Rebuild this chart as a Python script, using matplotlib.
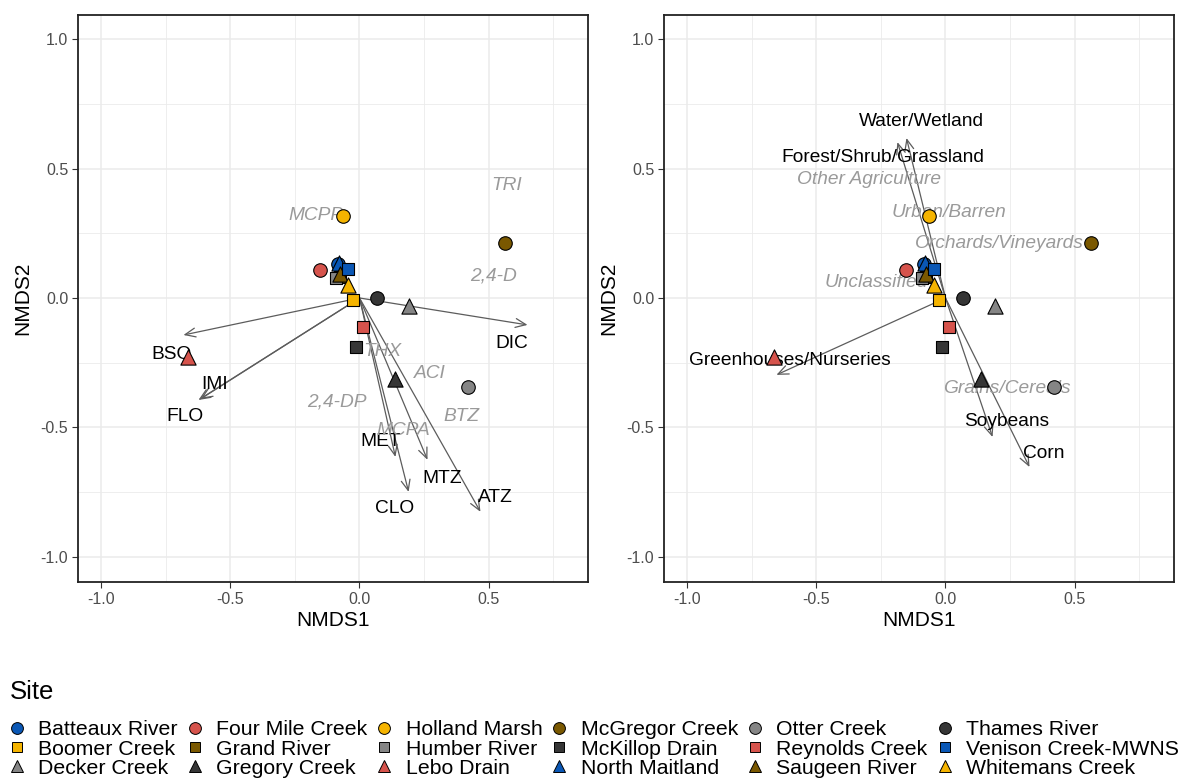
import numpy as np
import matplotlib
matplotlib.use('Agg')
import matplotlib.pyplot as plt
from matplotlib.lines import Line2D

plt.rcParams['font.family'] = ['Liberation Sans', 'DejaVu Sans']
plt.rcParams['axes.unicode_minus'] = False

# sites: NMDS scores, fill colour and shape
sites = ['Batteaux River', 'Boomer Creek', 'Decker Creek', 'Four Mile Creek', 'Grand River',
         'Gregory Creek', 'Holland Marsh', 'Humber River', 'Lebo Drain', 'McGregor Creek',
         'McKillop Drain', 'North Maitland', 'Otter Creek', 'Reynolds Creek', 'Saugeen River',
         'Thames River', 'Venison Creek-MWNS', 'Whitemans Creek']
nmds1 = [-0.085, -0.027, 0.19, -0.151, -0.077, 0.139, -0.062, -0.089, -0.662, 0.561,
         -0.012, -0.081, 0.418, 0.015, -0.077, 0.066, -0.046, -0.046]
nmds2 = [0.131, -0.008, -0.031, 0.108, 0.081, -0.313, 0.317, 0.077, -0.228, 0.212,
         -0.189, 0.135, -0.344, -0.112, 0.093, 0.0, 0.112, 0.05]

BLUE, YEL, GRY, RED, BRN, DRK = '#0a57b5', '#f5b400', '#858585', '#d6534c', '#7a5800', '#363636'
site_col = [BLUE, YEL, GRY, RED, BRN, DRK, YEL, GRY, RED, BRN,
            DRK, BLUE, GRY, RED, BRN, DRK, BLUE, YEL]
site_shape = ['o', 's', '^'] * 6

# pesticide vectors (significant ones get arrows)
pest_sig = ['BSO', 'IMI', 'FLO', 'DIC', 'MET', 'CLO', 'MTZ', 'ATZ']
pest_end_x = [-0.681, -0.623, -0.615, 0.65, 0.139, 0.19, 0.263, 0.468]
pest_end_y = [-0.143, -0.394, -0.39, -0.104, -0.614, -0.749, -0.625, -0.826]
pest_lab_x = [-0.727, -0.562, -0.677, 0.588, 0.081, 0.135, 0.319, 0.527]
pest_lab_y = [-0.217, -0.333, -0.456, -0.174, -0.556, -0.815, -0.699, -0.772]
pest_ns = ['TRI', 'MCPP', '2,4-D', 'THX', 'ACI', '2,4-DP', 'BTZ', 'MCPA']
pest_ns_x = [0.569, -0.17, 0.519, 0.088, 0.273, -0.089, 0.396, 0.169]
pest_ns_y = [0.436, 0.32, 0.085, -0.208, -0.29, -0.4, -0.459, -0.513]

# land use vectors
land_sig = ['Water/Wetland', 'Forest/Shrub/Grassland', 'Greenhouses/Nurseries', 'Soybeans', 'Corn']
land_end_x = [-0.151, -0.186, -0.654, 0.182, 0.325]
land_end_y = [0.618, 0.602, -0.297, -0.537, -0.653]
land_lab_x = [-0.093, -0.244, -0.603, 0.235, 0.382]
land_lab_y = [0.681, 0.541, -0.24, -0.479, -0.60]
land_ns = ['Other Agriculture', 'Urban/Barren', 'Orchards/Vineyards', 'Unclassified', 'Grains/Cereals']
land_ns_x = [-0.294, 0.015, 0.208, -0.267, 0.239]
land_ns_y = [0.456, 0.332, 0.209, 0.058, -0.348]

sizes = {'o': 95, 's': 85, '^': 120}


def draw_panel(ax, sig, ex, ey, lx, ly, ns, nx, ny):
    ax.set_xlim(-1.089, 0.884)
    ax.set_ylim(-1.097, 1.093)
    ax.set_xticks([-1.0, -0.5, 0.0, 0.5])
    ax.set_yticks([-1.0, -0.5, 0.0, 0.5, 1.0])
    ax.set_xticks([-0.75, -0.25, 0.25, 0.75], minor=True)
    ax.set_yticks([-0.75, -0.25, 0.25, 0.75], minor=True)
    ax.grid(which='major', color='#ebebeb', lw=1.1)
    ax.grid(which='minor', color='#ebebeb', lw=0.6)
    ax.set_axisbelow(True)
    ax.tick_params(which='minor', length=0)
    ax.tick_params(which='major', length=4, color='#333333', labelsize=11.5,
                   labelcolor='#4d4d4d', pad=3)
    for s in ax.spines.values():
        s.set_color('#222222')
        s.set_linewidth(1.3)
    ax.set_xlabel('NMDS1', fontsize=15, labelpad=3)
    ax.set_ylabel('NMDS2', fontsize=15, labelpad=6)

    for i in range(len(sig)):
        ax.annotate('', xy=(ex[i], ey[i]), xytext=(0, 0),
                    arrowprops=dict(arrowstyle='->,head_length=0.75,head_width=0.32',
                                    color='#5c5c5c', lw=0.9, shrinkA=0, shrinkB=0),
                    zorder=2)
        ax.text(lx[i], ly[i], sig[i], ha='center', va='center', fontsize=13.8,
                color='black', zorder=3)
    for i in range(len(ns)):
        ax.text(nx[i], ny[i], ns[i], ha='center', va='center', fontsize=13.8,
                color='#9a9a9a', style='italic', zorder=3)

    for i in range(len(sites)):
        m = site_shape[i]
        ax.scatter(nmds1[i], nmds2[i], marker=m, s=sizes[m], facecolor=site_col[i],
                   edgecolor='black', linewidth=0.8, zorder=4)


fig = plt.figure(figsize=(11.81, 7.80), dpi=100)
ax1 = fig.add_axes([78 / 1181, 1 - 582 / 780, 510 / 1181, 567 / 780])
ax2 = fig.add_axes([664 / 1181, 1 - 582 / 780, 510 / 1181, 567 / 780])

draw_panel(ax1, pest_sig, pest_end_x, pest_end_y, pest_lab_x, pest_lab_y,
           pest_ns, pest_ns_x, pest_ns_y)
draw_panel(ax2, land_sig, land_end_x, land_end_y, land_lab_x, land_lab_y,
           land_ns, land_ns_x, land_ns_y)

handles = []
for i in range(len(sites)):
    m = site_shape[i]
    handles.append(Line2D([], [], ls='none', marker=m, markersize=8.5 if m != 's' else 7.5,
                          markerfacecolor=site_col[i], markeredgecolor='black',
                          markeredgewidth=0.7))

fig.text(10 / 1181, 1 - 692 / 780, 'Site', fontsize=18.5, ha='left', va='center')
leg = fig.legend(handles, sites, ncol=6, loc='lower left',
                 bbox_to_anchor=(6.5 / 1181, 0.0), borderaxespad=0, borderpad=0.1,
                 frameon=False, fontsize=15.3, handletextpad=0.6, columnspacing=0.4,
                 labelspacing=0.015, handlelength=0.8)

fig.savefig('out.png', dpi=100)
